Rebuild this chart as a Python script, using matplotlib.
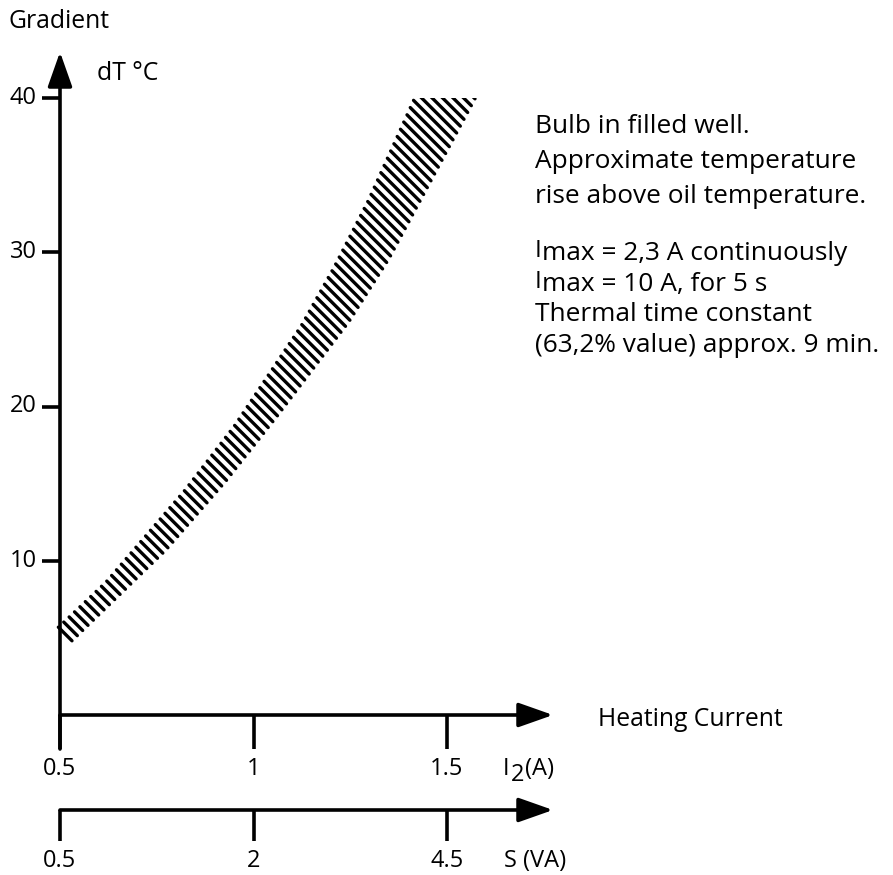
import numpy as np
import matplotlib
matplotlib.use("Agg")
import matplotlib.pyplot as plt
from matplotlib.collections import LineCollection
from matplotlib.patches import Rectangle

# ---------------- data ----------------
current_upper = [0.49, 0.616, 0.818, 0.947, 1.12, 1.205, 1.293, 1.412]
gradient_upper = [5.7, 8.7, 14.6, 18.8, 25.3, 29.1, 33.4, 40.0]
current_lower = [0.52, 0.776, 0.932, 1.061, 1.249, 1.353, 1.456, 1.578]
gradient_lower = [4.4, 10.6, 15.1, 19.2, 25.4, 29.5, 34.3, 40.0]

y_ticks = [10, 20, 30, 40]
current_ticks = [0.5, 1.0, 1.5]
current_tick_labels = ["0.5", "1", "1.5"]
power_ticks = [0.5, 2, 4.5]            # S (VA) = 2 * I^2
power_tick_labels = ["0.5", "2", "4.5"]

note_lines = ["Bulb in filled well.",
              "Approximate temperature",
              "rise above oil temperature."]
imax_lines = ["max = 2,3 A continuously",
              "max = 10 A, for 5 s"]
tail_lines = ["Thermal time constant",
              "(63,2% value) approx. 9 min."]

# ---------------- layout ----------------
W, H = 893, 875
PX_X05, PX_X15 = 60, 447      # pixel x of I=0.5 and I=1.5
PY_Y0, PY_Y40 = 715, 98       # pixel y of 0 and 40

plt.rcParams["font.family"] = ["Open Sans", "DejaVu Sans"]
fig = plt.figure(figsize=(W / 100, H / 100), dpi=100)
ax = fig.add_axes([PX_X05 / W, (H - PY_Y0) / H,
                   (PX_X15 - PX_X05) / W, (PY_Y0 - PY_Y40) / H])
ax.set_xlim(0.5, 1.5)
ax.set_ylim(0, 40)
ax.axis("off")

sx = (PX_X15 - PX_X05) / 1.0          # px per A
sy = (PY_Y0 - PY_Y40) / 40.0          # px per degree


def dx(px):
    return 0.5 + (px - PX_X05) / sx


def dy(py):
    return (PY_Y0 - py) / sy


LW = 2.6
K = "black"
FS = 17
FS_TITLE = 17.8
FS_NOTE = 18.9

# ---------------- hatched band (-45 deg hatch lines) ----------------
ext = 6.0
ux = np.array(current_upper, float)
uy = np.array(gradient_upper, float)
slope = (uy[-1] - uy[-2]) / (ux[-1] - ux[-2])
ux = np.append(ux, ux[-1] + ext / slope)
uy = np.append(uy, uy[-1] + ext)
lx = np.array(current_lower, float)
ly = np.array(gradient_lower, float)


def dense(x, y, n=3000):
    px = (x - 0.5) * sx
    py = y * sy
    seg = np.hypot(np.diff(px), np.diff(py))
    s = np.concatenate([[0], np.cumsum(seg)])
    t = np.linspace(0, s[-1], n)
    return np.interp(t, s, px), np.interp(t, s, py)


upx, upy = dense(ux, uy)
lpx, lpy = dense(lx, ly)
su = upx + upy
sl = lpx + lpy
STEP = 10.5      # horizontal spacing of hatch lines, px
c_vals = np.arange(sl[-1] - 3.0, max(su[0], sl[0]), -STEP)
segs = []
for c in c_vals:
    ax0, ay0 = np.interp(c, su, upx), np.interp(c, su, upy)
    bx0, by0 = np.interp(c, sl, lpx), np.interp(c, sl, lpy)
    d = np.hypot(bx0 - ax0, by0 - ay0)
    if d > 0:
        sh = min(1.6, d / 2 - 0.01)
        ux_, uy_ = (bx0 - ax0) / d, (by0 - ay0) / d
        ax0, ay0 = ax0 + ux_ * sh, ay0 + uy_ * sh
        bx0, by0 = bx0 - ux_ * sh, by0 - uy_ * sh
    segs.append([(0.5 + ax0 / sx, ay0 / sy), (0.5 + bx0 / sx, by0 / sy)])

lc = LineCollection(segs, colors=K, linewidths=2.4, capstyle="round")
ax.add_collection(lc)
clip = Rectangle((0.3, -5), 2.0, 45.0, transform=ax.transData,
                 fill=False, visible=False)
ax.add_patch(clip)
lc.set_clip_path(clip)

# ---------------- axes ----------------
aprops = dict(arrowstyle="-|>,head_length=0.85,head_width=0.3",
              mutation_scale=25, lw=LW, color=K, shrinkA=0, shrinkB=0)
ax.annotate("", xy=(0.5, dy(52)), xytext=(0.5, dy(749)),
            arrowprops=aprops, annotation_clip=False)
ax.annotate("", xy=(dx(553), 0), xytext=(0.5, 0),
            arrowprops=aprops, annotation_clip=False)
ypow = dy(810)
ax.annotate("", xy=(dx(553), ypow), xytext=(0.5, ypow),
            arrowprops=aprops, annotation_clip=False)

for v in y_ticks:
    ax.plot([dx(42), 0.5], [v, v], color=K, lw=LW, clip_on=False,
            solid_capstyle="butt")
    ax.text(dx(37), v, str(v), ha="right", va="center", fontsize=FS)

for v, lab in zip(current_ticks, current_tick_labels):
    ax.plot([v, v], [0, dy(749)], color=K, lw=LW, clip_on=False,
            solid_capstyle="butt")
    ax.text(v, dy(769), lab, ha="center", va="center", fontsize=FS)

for v, lab in zip(power_ticks, power_tick_labels):
    xi = np.sqrt(v / 2.0)
    ax.plot([xi, xi], [ypow, dy(841)], color=K, lw=LW, clip_on=False,
            solid_capstyle="butt")
    ax.text(xi, dy(861), lab, ha="center", va="center", fontsize=FS)


def ftext(px, py, s, **kw):
    kw.setdefault("fontsize", FS)
    fig.text(px / W, 1 - py / H, s, **kw)


ftext(8, 22, "Gradient", ha="left", va="center", fontsize=FS_TITLE)
ftext(97, 74, "dT °C", ha="left", va="center", fontsize=FS_TITLE)
ftext(598, 720, "Heating Current", ha="left", va="center", fontsize=FS_TITLE)
ftext(503, 769, "I", ha="left", va="center")
ftext(511, 775, "2", ha="left", va="center")
ftext(525, 769, "(A)", ha="left", va="center")
ftext(504, 861, "S (VA)", ha="left", va="center")

NX = 535
for i, s in enumerate(note_lines):
    ftext(NX, 133 + 35 * i, s, ha="left", va="baseline", fontsize=FS_NOTE)
for i, s in enumerate(imax_lines):
    base = 260 + 31 * i
    ftext(NX, base - 3, "I", ha="left", va="baseline",
          fontsize=FS_NOTE * 0.92)
    ftext(NX + 7, base, s, ha="left", va="baseline", fontsize=FS_NOTE)
for i, s in enumerate(tail_lines):
    ftext(NX, 321 + 31 * i, s, ha="left", va="baseline", fontsize=FS_NOTE)

fig.savefig("out.png", dpi=100, facecolor="white")
